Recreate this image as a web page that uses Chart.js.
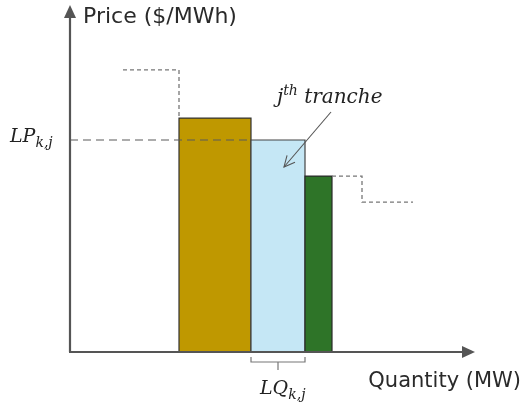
<!DOCTYPE html>
<html><head><meta charset="utf-8">
<script src="https://cdn.jsdelivr.net/npm/chart.js@4.4.0/dist/chart.umd.min.js"></script>
<style>html,body{margin:0;padding:0;background:#fff}#wrap{position:relative;width:521px;height:414px}</style>
</head><body><div id="wrap"><canvas id="c"></canvas></div>
<script>
// Offer tranches: quantity edges (MW, arbitrary units) and prices ($/MWh, arbitrary units)
const trancheNames = ['Tranche j-1', 'Tranche j', 'Tranche j+1'];
const trancheStart = [21.8, 36.2, 47.0];
const trancheEnd   = [36.2, 47.0, 52.4];
const tranchePrice = [67.4, 61.1, 50.7];
const trancheColors = ['#BF9800', '#C5E7F5', '#2E7428'];
const trancheBorders = ['#333333', '#444444', '#2a2a2a'];
// Neighbouring offer steps (dashed)
const leftStepX  = [10.6, 21.8, 21.8];
const leftStepY  = [81.3, 81.3, 67.4];
const rightStepX = [52.4, 58.4, 58.4, 68.6];
const rightStepY = [50.7, 50.7, 43.2, 43.2];
// LP reference line
const lpLineX = [0, 36.2];
const lpLineY = [61.1, 61.1];
const xMax = 81, yMax = 100;
const jIndex = 1;

const pts = (xs, ys) => xs.map((x, i) => ({x, y: ys[i]}));

const datasets = [];
datasets.push({label: 'LP', data: pts(lpLineX, lpLineY), borderColor: '#5a5a5a', borderWidth: 1.2,
  borderDash: [8, 5], fill: false, pointRadius: 0, order: 0});
datasets.push({label: 'left step', data: pts(leftStepX, leftStepY), borderColor: '#777', borderWidth: 1.3,
  borderDash: [4, 3], fill: false, pointRadius: 0, order: 1});
datasets.push({label: 'right step', data: pts(rightStepX, rightStepY), borderColor: '#777', borderWidth: 1.3,
  borderDash: [4, 3], fill: false, pointRadius: 0, order: 1});
trancheNames.forEach((n, i) => {
  datasets.push({label: n,
    data: [{x: trancheStart[i], y: 0}, {x: trancheStart[i], y: tranchePrice[i]},
           {x: trancheEnd[i], y: tranchePrice[i]}, {x: trancheEnd[i], y: 0}],
    backgroundColor: trancheColors[i], borderColor: trancheBorders[i], borderWidth: 1.2,
    fill: 'origin', pointRadius: 0, order: 5 - i});
});

function mathText(ctx, parts, x, y) {
  // parts: [text, size, dy]
  let cx = x;
  parts.forEach(([t, size, dy]) => {
    ctx.font = 'italic ' + size + 'px "DejaVu Serif"';
    ctx.fillText(t, cx, y + dy);
    cx += ctx.measureText(t).width;
  });
}

const decor = {
  id: 'decor',
  afterDatasetsDraw(chart) {
    const ctx = chart.ctx, xs = chart.scales.x, ys = chart.scales.y;
    const x0 = xs.getPixelForValue(0), y0 = ys.getPixelForValue(0);
    const xTip = xs.getPixelForValue(xMax), yTip = ys.getPixelForValue(yMax);
    ctx.save();
    // axes
    ctx.strokeStyle = '#555'; ctx.fillStyle = '#555'; ctx.lineWidth = 2.2;
    ctx.beginPath(); ctx.moveTo(x0, y0); ctx.lineTo(x0, yTip + 8); ctx.stroke();
    ctx.beginPath(); ctx.moveTo(x0 - 1, y0); ctx.lineTo(xTip - 8, y0); ctx.stroke();
    ctx.beginPath(); ctx.moveTo(x0, yTip); ctx.lineTo(x0 - 6, yTip + 13); ctx.lineTo(x0 + 6, yTip + 13); ctx.closePath(); ctx.fill();
    ctx.beginPath(); ctx.moveTo(xTip, y0); ctx.lineTo(xTip - 13, y0 - 6); ctx.lineTo(xTip - 13, y0 + 6); ctx.closePath(); ctx.fill();
    // axis titles
    ctx.fillStyle = '#2a2a2a'; ctx.font = '22px "DejaVu Sans"'; ctx.textBaseline = 'alphabetic';
    ctx.fillText('Price ($/MWh)', x0 + 13, yTip + 18);
    ctx.font = '21px "DejaVu Sans"';
    ctx.textAlign = 'right';
    ctx.fillText('Quantity (MW)', chart.width, y0 + 35);
    ctx.textAlign = 'left';
    // bracket under tranche j
    const bx1 = xs.getPixelForValue(trancheStart[jIndex]), bx2 = xs.getPixelForValue(trancheEnd[jIndex]);
    ctx.strokeStyle = '#777'; ctx.lineWidth = 1.2;
    ctx.beginPath();
    ctx.moveTo(bx1, y0 + 5); ctx.lineTo(bx1, y0 + 10); ctx.lineTo(bx2, y0 + 10); ctx.lineTo(bx2, y0 + 5);
    ctx.moveTo((bx1 + bx2) / 2, y0 + 10); ctx.lineTo((bx1 + bx2) / 2, y0 + 18);
    ctx.stroke();
    // pointer arrow to tranche j
    const ax2 = xs.getPixelForValue(trancheStart[jIndex]) + 33, ay2 = ys.getPixelForValue(tranchePrice[jIndex]) + 27;
    const ax1 = ax2 + 47, ay1 = ay2 - 55;
    ctx.strokeStyle = '#555'; ctx.lineWidth = 1.1;
    ctx.beginPath(); ctx.moveTo(ax1, ay1); ctx.lineTo(ax2, ay2); ctx.stroke();
    const ang = Math.atan2(ay2 - ay1, ax2 - ax1);
    ctx.beginPath();
    ctx.moveTo(ax2 - 12 * Math.cos(ang - 0.45), ay2 - 12 * Math.sin(ang - 0.45));
    ctx.lineTo(ax2, ay2);
    ctx.lineTo(ax2 - 12 * Math.cos(ang + 0.45), ay2 - 12 * Math.sin(ang + 0.45));
    ctx.stroke();
    // math labels
    ctx.fillStyle = '#222';
    const lpY = ys.getPixelForValue(lpLineY[0]);
    mathText(ctx, [['LP', 19, 0], ['k,j', 14, 5]], 10, lpY + 2);
    mathText(ctx, [['j', 20, 0], ['th', 14, -8], [' tranche', 20, 0]], 277, 103);
    mathText(ctx, [['LQ', 19, 0], ['k,j', 14, 5]], 260, y0 + 42);
    ctx.restore();
  }
};

new Chart(document.getElementById('c'), {
  type: 'line',
  data: {datasets},
  options: {
    responsive: true, maintainAspectRatio: false, animation: false,
    layout: {padding: {left: 70, right: 46, top: 5, bottom: 62}},
    plugins: {legend: {display: false}, tooltip: {enabled: false}, title: {display: false}},
    elements: {line: {tension: 0}},
    scales: {
      x: {type: 'linear', min: 0, max: xMax, display: false},
      y: {type: 'linear', min: 0, max: yMax, display: false}
    }
  },
  plugins: [decor]
});
</script></body></html>
